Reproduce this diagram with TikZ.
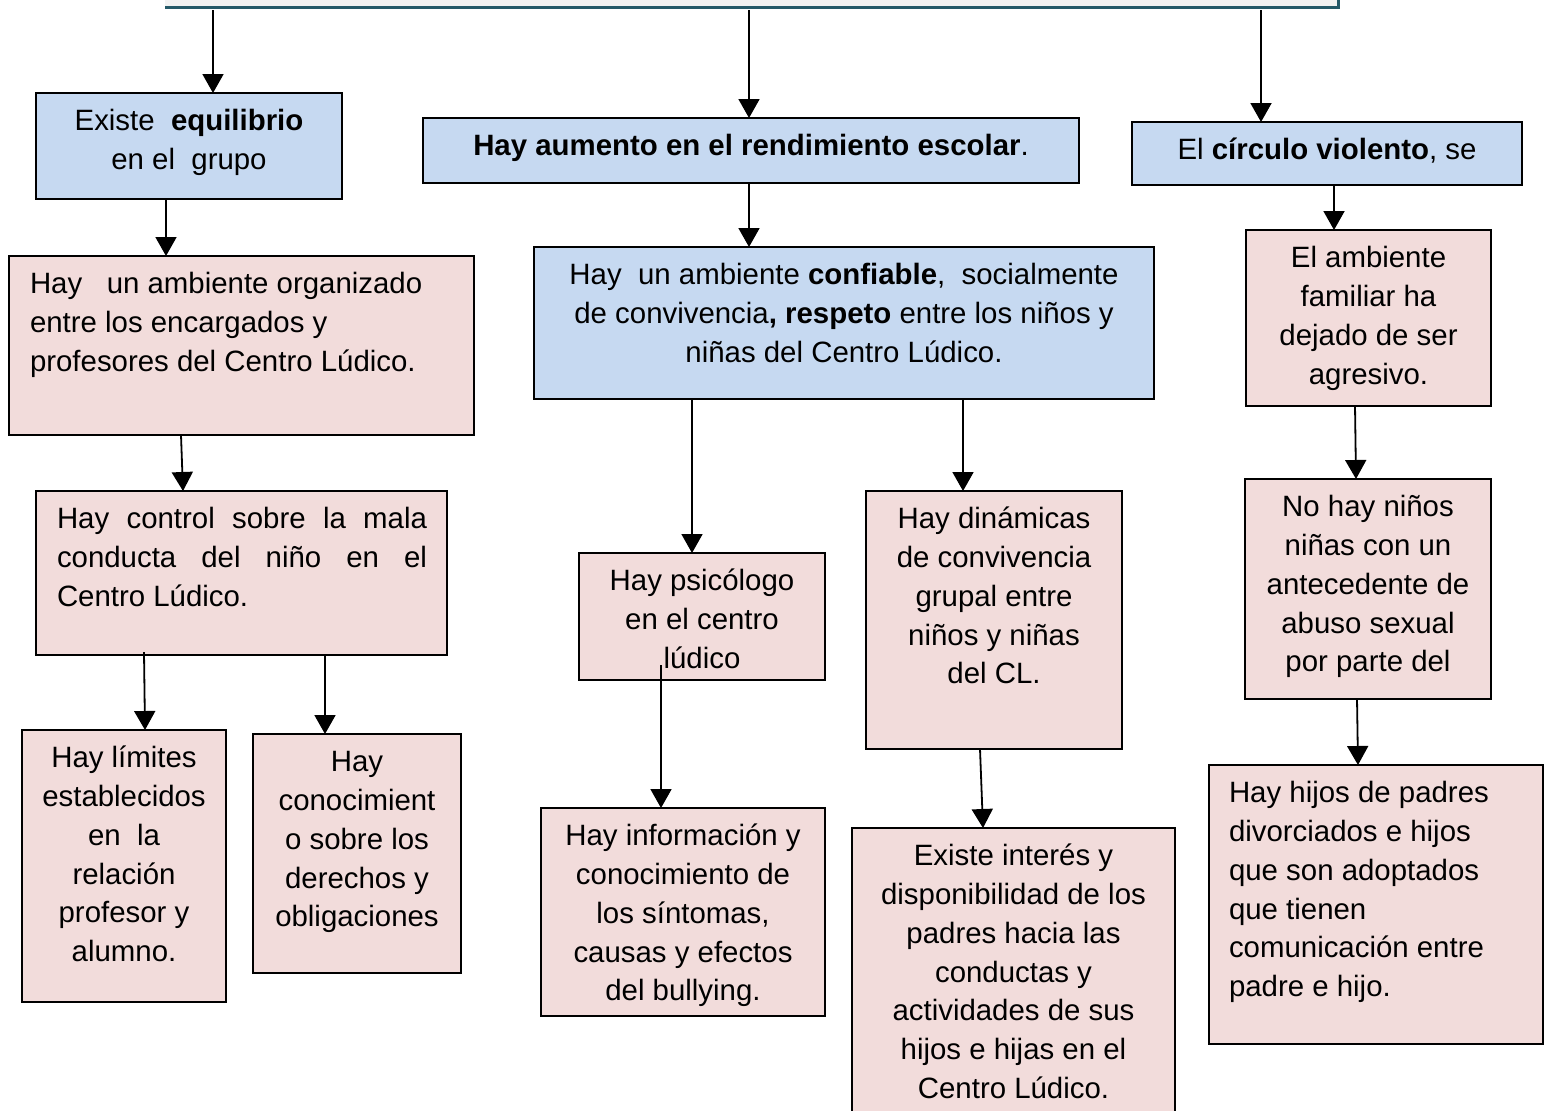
\documentclass[tikz,border=0pt]{standalone}
\usepackage{fontspec}
\setmainfont{Liberation Sans}
\usetikzlibrary{arrows.meta, calc}
\definecolor{boxblue}{RGB}{198,217,241}
\definecolor{boxpink}{RGB}{242,220,219}
\definecolor{bargray}{RGB}{242,242,242}
\definecolor{barteal}{RGB}{36,89,104}
\newlength{\unitpx}
\setlength{\unitpx}{0.5pt}
% box text: width, height (px), alignment, text
\newcommand{\cellbody}[4]{\parbox[c][#2\unitpx][t]{#1\unitpx}{\vspace*{10.5\unitpx}#3\strut#4}}

\begin{document}
\begin{tikzpicture}[x=0.5pt, y=-0.5pt, >={Triangle[length=9.5pt,width=10.5pt]},
    cell/.style={draw, line width=0.8pt, anchor=north west, inner sep=0pt, outer sep=0pt,
      font=\fontsize{14.7}{19.4}\selectfont},
    bluecell/.style={cell, fill=boxblue},
    pinkcell/.style={cell, fill=boxpink},
    link/.style={->, line width=0.9pt}]
    \useasboundingbox (0,0) rectangle (1550,1110);

    % Top bar
    \node[fill=bargray, anchor=south west, inner sep=0pt, minimum width=586.5pt, minimum height=15pt] (bar) at (165,7) {};
    \draw[barteal, line width=1.5pt] (bar.south west) -- (bar.south east) -- ++(0,-10);

    % First row
    \node[bluecell] (eq) at (36,93) {\cellbody{306}{106}{\centering}{Existe\ \ \textbf{equilibrio}\\ en el\ \ grupo}};
    \node[bluecell] (rend) at (423,118) {\cellbody{656}{65}{\centering}{\textbf{Hay aumento en el rendimiento escolar}.}};
    \node[bluecell] (circ) at (1132,122) {\cellbody{390}{63}{\centering}{El \textbf{círculo violento}, se}};

    % Second row
    \node[pinkcell] (amb) at (9,256) {\cellbody{465}{179}{\raggedright\leftskip=21\unitpx}{Hay\ \ \ un ambiente organizado\\ entre los encargados y\\ profesores del Centro Lúdico.}};
    \node[bluecell] (conf) at (534,247) {\cellbody{620}{152}{\centering}{Hay\ \ un ambiente \textbf{confiable},\ \ socialmente\\ de convivencia\textbf{, respeto} entre los niños y\\ niñas del Centro Lúdico.}};
    \node[pinkcell] (famil) at (1246,230) {\cellbody{245}{176}{\centering}{El ambiente\\ familiar ha\\ dejado de ser\\ agresivo.}};

    % Third row
    \node[pinkcell] (ctrl) at (36,491) {\cellbody{411}{164}{\leftskip=21\unitpx\rightskip=20\unitpx}{\makebox[370\unitpx][s]{Hay control sobre la mala}\\ \makebox[370\unitpx][s]{conducta del niño en el}\\ Centro Lúdico.}};
    \node[pinkcell] (psic) at (579,553) {\cellbody{246}{127}{\centering}{Hay psicólogo\\ en el centro\\ lúdico}};
    \node[pinkcell] (dinam) at (866,491) {\cellbody{256}{258}{\centering}{Hay dinámicas\\ de convivencia\\ grupal entre\\ niños y niñas\\ del CL.}};
    \node[pinkcell] (abuso) at (1245,479) {\cellbody{246}{220}{\centering}{No hay niños\\ niñas con un\\ antecedente de\\ abuso sexual\\ por parte del}};

    % Bottom row
    \node[pinkcell] (lim) at (22,730) {\cellbody{204}{272}{\centering}{Hay límites\\ establecidos\\ en\ \ la\\ relación\\ profesor y\\ alumno.}};
    \node[pinkcell] (conoc) at (253,734) {\cellbody{208}{239}{\centering}{Hay\\ conocimient\\ o sobre los\\ derechos y\\ obligaciones}};
    \node[pinkcell] (info) at (541,808) {\cellbody{284}{208}{\centering}{Hay información y\\ conocimiento de\\ los síntomas,\\ causas y efectos\\ del bullying.}};
    \node[pinkcell] (interes) at (852,828) {\cellbody{323}{300}{\centering}{Existe interés y\\ disponibilidad de los\\ padres hacia las\\ conductas y\\ actividades de sus\\ hijos e hijas en el\\ Centro Lúdico.}};
    \node[pinkcell] (hijos) at (1209,765) {\cellbody{334}{279}{\raggedright\leftskip=20\unitpx}{Hay hijos de padres\\ divorciados e hijos\\ que son adoptados\\ que tienen\\ comunicación entre\\ padre e hijo.}};

    % Arrows
    \draw[link] ($(bar.south west)+(48,3)$) -- ($(eq.north west)+(177,0)$);
    \draw[link] ($(bar.south west)+(584,3)$) -- ($(rend.north west)+(326,0)$);
    \draw[link] ($(bar.south west)+(1096,3)$) -- ($(circ.north west)+(129,0)$);
    \draw[link] ($(eq.south west)+(130,0)$) -- ($(amb.north west)+(157,0)$);
    \draw[link] ($(rend.south west)+(326,0)$) -- ($(conf.north west)+(215,0)$);
    \draw[link] ($(circ.south west)+(202,0)$) -- ($(famil.north west)+(88,0)$);
    \draw[link] ($(amb.south west)+(172,0)$) -- ($(ctrl.north west)+(147,0)$);
    \draw[link] ($(conf.south west)+(158,0)$) -- ($(psic.north west)+(113,0)$);
    \draw[link] ($(conf.south west)+(429,0)$) -- ($(dinam.north west)+(97,0)$);
    \draw[link] ($(famil.south west)+(109,0)$) -- ($(abuso.north west)+(111,0)$);
    \draw[link] ($(ctrl.south west)+(108,-3)$) -- ($(lim.north west)+(123,0)$);
    \draw[link] ($(ctrl.south west)+(289,0)$) -- ($(conoc.north west)+(72,0)$);
    \draw[link] ($(psic.south west)+(82,-15)$) -- ($(info.north west)+(120,0)$);
    \draw[link] ($(dinam.south west)+(114,0)$) -- ($(interes.north west)+(131,0)$);
    \draw[link] ($(abuso.south west)+(112,0)$) -- ($(hijos.north west)+(149,0)$);
\end{tikzpicture}
\end{document}
